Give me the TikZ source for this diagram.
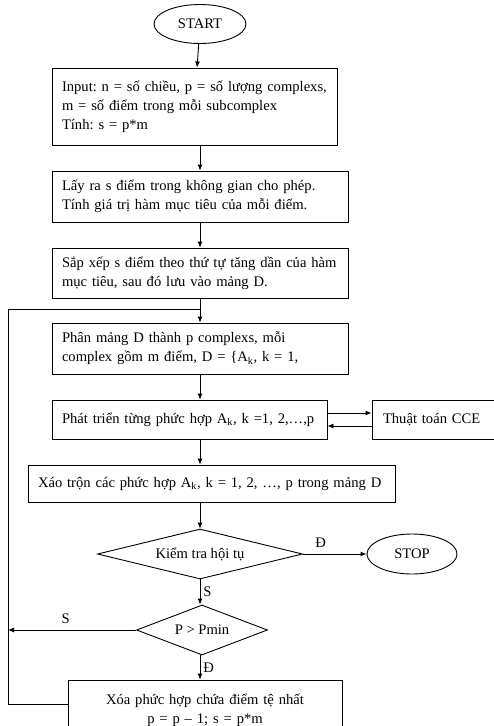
\documentclass[tikz,border=0pt]{standalone}
\usepackage{fontspec}
\setmainfont{Liberation Serif}
\usetikzlibrary{shapes.geometric,arrows.meta}
\frenchspacing

\tikzset{
  x=1pt, y=-1pt,
  every node/.style={font=\fontsize{14.6}{19}\selectfont, inner sep=0pt},
  procbox/.style={draw, line width=0.9pt, rectangle, inner xsep=10pt, align=left},
  termin/.style={draw, line width=0.9pt, ellipse},
  decide/.style={draw, line width=0.9pt, diamond},
  flow/.style={line width=0.9pt, -{Latex[length=6pt,width=5pt]}},
  wire/.style={line width=0.9pt},
  lbl/.style={font=\fontsize{14.6}{19}\selectfont}
}
\newcommand{\fillline}[2]{\makebox[#1][s]{#2}}

\begin{document}
\begin{tikzpicture}
\useasboundingbox (0,0) rectangle (494,726);
\clip (0,0) rectangle (494,726);

% terminals
\node[termin, minimum width=92pt, minimum height=39pt] (start) at (200,24) {START};
\node[termin, minimum width=90pt, minimum height=40pt] (stop) at (412,554) {STOP};

% process steps
\node[procbox, text width=265pt, minimum height=77pt] (inp) at (194.5,106.5)
  {\mbox{Input: n = số chiều, p = số lượng complexs,}\\ m = số điểm trong mỗi subcomplex\\ Tính: s = p*m};
\node[procbox, text width=276pt, minimum height=51pt] (pick) at (200,196.5)
  {\fillline{276pt}{Lấy ra s điểm trong không gian cho phép.}\\ Tính giá trị hàm mục tiêu của mỗi điểm.};
\node[procbox, text width=276pt, minimum height=50pt] (sort) at (200,273)
  {\fillline{276pt}{Sắp xếp s điểm theo thứ tự tăng dần của hàm}\\ mục tiêu, sau đó lưu vào mảng D.};
\node[procbox, text width=276pt, minimum height=51pt] (part) at (200,348.5)
  {\fillline{276pt}{Phân mảng D thành p complexs, mỗi}\\ \fillline{276pt}{complex gồm m điểm, D = \{A\textsubscript{k}, k = 1,}};
\node[procbox, text width=255pt, minimum height=39pt] (evolve) at (189.5,419.5)
  {\mbox{Phát triển từng phức hợp A\textsubscript{k}, k =1, 2,…,p}};
\node[procbox, inner xsep=11pt, text width=102pt, minimum height=39pt] (cce) at (434,419.5)
  {Thuật toán CCE};
\node[procbox, text width=347pt, minimum height=37pt] (shuffle) at (211.5,483.5)
  {\mbox{Xáo trộn các phức hợp A\textsubscript{k}, k = 1, 2, …, p trong mảng D}};
\node[procbox, align=center, text width=254pt, minimum height=60pt] (drop) at (205,710)
  {Xóa phức hợp chứa điểm tệ nhất\\ p = p – 1; s = p*m};

% decisions
\node[decide, aspect=4.1, minimum width=205pt, minimum height=50pt] (conv) at (200,554) {Kiểm tra hội tụ};
\node[decide, aspect=2.62, minimum width=131pt, minimum height=50pt] (pmin) at (202,630) {P > Pmin};

% main flow
\draw[flow] (start) -- (inp);
\draw[flow] (inp.south -| start) -- (pick.north -| start);
\draw[flow] (pick) -- (sort);
\draw[flow] (sort) -- (part);
\draw[flow] (part.south -| start) -- (evolve.north -| start);
\draw[flow] (evolve.south -| start) -- (shuffle.north -| start);
\draw[flow] (shuffle.south -| start) -- (conv.north);
\draw[flow] (conv) -- node[lbl, above, pos=0.28, yshift=6pt] (lblyes) {Đ} (stop);
\draw[flow] (conv.south) -- node[lbl, right, xshift=3pt] (lblno) {S} (pmin.north -| conv.south);
\draw[flow] (pmin.south -| conv.south) -- node[lbl, right, xshift=3pt] (lblyes2) {Đ} (drop.north -| conv.south);

% exchange with the CCE routine
\draw[flow] ([yshift=6.5pt]evolve.east) -- ([yshift=6.5pt]cce.west |- evolve.east);
\draw[flow] ([yshift=-6.5pt]cce.west |- evolve.east) -- ([yshift=-6.5pt]evolve.east);

% loop back to the partition step
\coordinate (loopL) at (8,630);
\coordinate (loopTop) at (8,309);
\coordinate (loopJoin) at (200,309);
\coordinate (loopBot) at (8,704);
\draw[wire] (drop.west |- loopBot) -- (loopBot) -- (loopTop) -- (loopJoin);
\draw[flow] (pmin.west) -- node[lbl, above, pos=0.55, yshift=6pt] (lblno2) {S} (loopL);
\end{tikzpicture}
\end{document}
